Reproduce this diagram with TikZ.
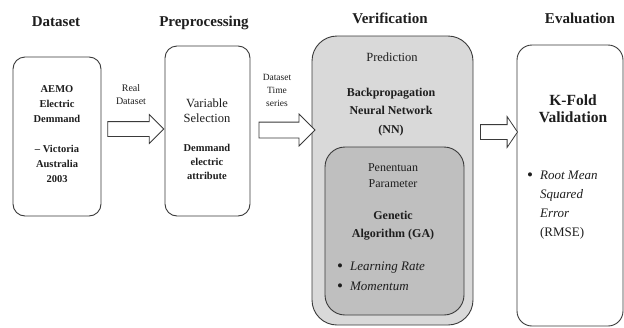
\documentclass[tikz,border=0pt]{standalone}
\usepackage{fontspec}
\setmainfont{Liberation Serif}
\usetikzlibrary{shapes.arrows}
\definecolor{linec}{HTML}{3A3A3A}
\definecolor{txt}{HTML}{1E1E1E}
\definecolor{outerfill}{HTML}{D9D9D9}
\definecolor{innerfill}{HTML}{BFBFBF}
\newcommand{\mlines}[1]{\begin{tabular}[t]{@{}c@{}}#1\end{tabular}}
\newcommand{\fs}[2]{\fontsize{#1}{#2}\selectfont}
\newcommand{\bigbul}{\raisebox{-1.3pt}{\fontsize{17}{17}\selectfont\textbullet}}
\tikzset{
  boxa/.style={draw=linec, line width=0.9pt, rounded corners=#1, inner sep=0pt},
  lbl/.style={anchor=base, inner sep=0pt, text=txt},
  lblw/.style={anchor=base west, inner sep=0pt, text=txt},
  blockarrow/.style={single arrow, draw=linec, line width=0.8pt, fill=white,
    inner xsep=0pt, inner ysep=#1, single arrow head indent=0pt},
}
\begin{document}
\begin{tikzpicture}[x=1pt,y=-1pt]
\useasboundingbox (0,0) rectangle (624,327);
% titles
\node[lbl, font=\fs{15}{18}\bfseries] (t1) at (56,26.5) {Dataset};
\node[lbl, font=\fs{15}{18}\bfseries] (t2) at (204,26) {Preprocessing};
\node[lbl, font=\fs{15}{18}\bfseries] (t3) at (390,23.5) {Verification};
\node[lbl, font=\fs{15}{18}\bfseries] (t4) at (580,23) {Evaluation};
% boxes
\node[boxa=12pt, fill=white, minimum width=88pt, minimum height=159pt] (ds) at (57,136.5) {};
\node[boxa=12pt, fill=white, minimum width=85pt, minimum height=170pt] (pp) at (207.5,131) {};
\node[boxa=25pt, fill=outerfill, minimum width=161pt, minimum height=289pt] (vf) at (392.5,180.5) {};
\node[boxa=20pt, fill=innerfill, minimum width=139pt, minimum height=168pt] (ga) at (394.5,231) {};
\node[boxa=15pt, fill=white, minimum width=106pt, minimum height=281pt] (ev) at (570,185.5) {};
% arrows
\node[blockarrow=7pt, minimum height=56pt, minimum width=28pt, single arrow head extend=7pt] (a1) at (132,129) {};
\node[blockarrow=7.5pt, minimum height=56pt, minimum width=31pt, single arrow head extend=8pt] (a2) at (283,130) {};
\node[blockarrow=7pt, minimum height=37pt, minimum width=30pt, single arrow head extend=8pt, single arrow tip angle=112] (a3) at (496.5,132) {};
% box 1 text
\node[lbl, font=\fs{10.5}{15}\bfseries] (dstext) at (57,92.5) {\mlines{AEMO\\Electric\\Demmand\\ \\– Victoria\\Australia\\2003}};
% box 2 text
\node[lbl, font=\fs{12.5}{15}] (vs) at (207,107) {\mlines{Variable\\Selection}};
\node[lbl, font=\fs{10.5}{14}\bfseries] (dea) at (207,151.5) {\mlines{Demmand\\electric\\attribute}};
% arrow labels
\node[lbl, font=\fs{10}{13}] (l1) at (131,91.5) {\mlines{Real\\Dataset}};
\node[lbl, font=\fs{9.5}{13}] (l2) at (277,80) {\mlines{Dataset\\Time\\series}};
% verification text
\node[lbl, font=\fs{12.5}{16}] (pred) at (392,61) {Prediction};
\node[lbl, font=\fs{12}{18.5}\bfseries] (bp) at (391,96) {\mlines{Backpropagation\\Neural Network\\(NN)}};
\node[lbl, font=\fs{12}{16}] (pen) at (393,171) {\mlines{Penentuan\\Parameter}};
\node[lbl, font=\fs{12}{18}\bfseries] (gen) at (393,219) {\mlines{Genetic\\Algorithm (GA)}};
\node[lblw, font=\fs{13}{20}] (lr) at (337,270.5) {\begin{tabular}[t]{@{}l@{\hspace{7pt}}l@{}}\bigbul & \textit{Learning Rate}\\ \bigbul & \textit{Momentum}\end{tabular}};
% evaluation text
\node[lbl, font=\fs{15.5}{17}\bfseries] (kf) at (573,105) {\mlines{K-Fold\\Validation}};
\node[lblw, font=\fs{13}{19}] (rm) at (527,179.5) {\begin{tabular}[t]{@{}l@{\hspace{7pt}}l@{}}\bigbul & \textit{Root Mean}\\ & \textit{Squared}\\ & \textit{Error}\\ & (RMSE)\end{tabular}};
\end{tikzpicture}
\end{document}
